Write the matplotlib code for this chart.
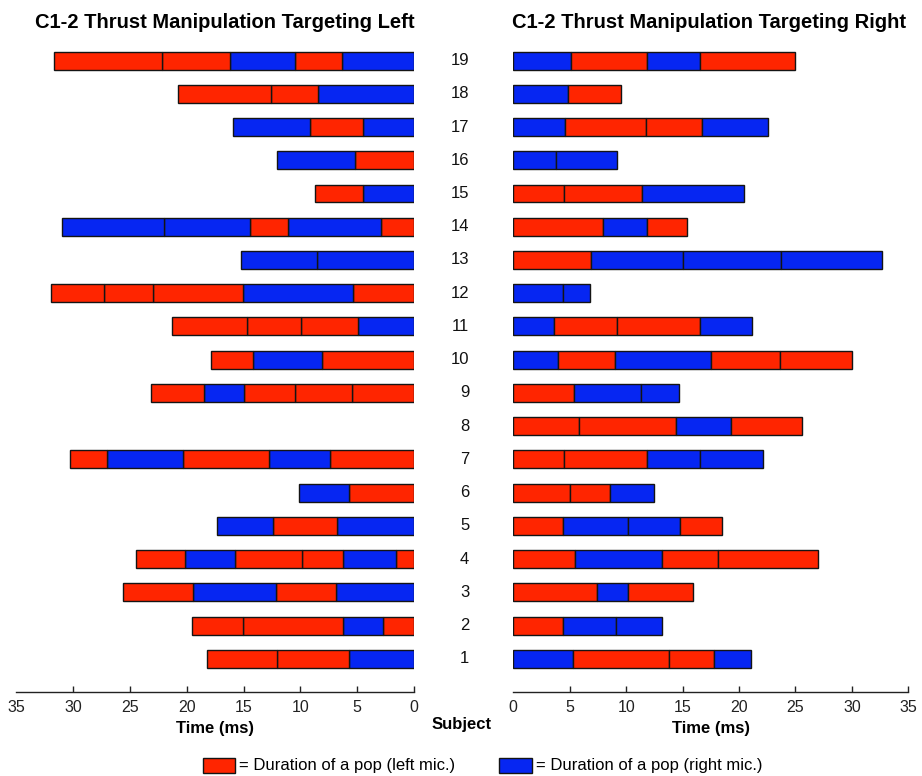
import matplotlib
matplotlib.use("Agg")
import matplotlib.pyplot as plt
from matplotlib.patches import Rectangle

plt.rcParams['font.family'] = ['Liberation Sans', 'DejaVu Sans']

subjects = list(range(1, 20))

# Cumulative segment end points (ms), going outward from 0; colour code R = left mic, B = right mic
left_ends = [
    [5.69, 12.09, 18.25],
    [2.7, 6.22, 15.08, 19.57],
    [6.87, 12.15, 19.48, 25.64],
    [1.58, 6.28, 9.89, 15.76, 20.16, 24.47],
    [6.8, 12.38, 17.31],
    [5.69, 10.1],
    [7.39, 12.76, 20.31, 27.05, 30.28],
    [],
    [5.49, 10.48, 14.94, 18.49, 23.15],
    [8.13, 14.2, 17.9],
    [4.96, 9.95, 14.73, 21.28],
    [5.34, 15.08, 22.95, 27.26, 31.95],
    [8.51, 15.23],
    [2.93, 11.12, 14.44, 22.0, 31.0],
    [4.46, 8.71],
    [5.19, 12.09],
    [4.46, 9.15, 15.96],
    [8.42, 12.59, 20.75],
    [6.36, 10.5, 16.2, 22.2, 31.66],
]
left_mics = [
    "BRR", "RBRR", "BRBR", "RBRRBR", "BRB", "RB", "RBRBR", "",
    "RRRBR", "RBR", "BRRR", "RBRRR", "BB", "RBRBB", "BR", "RB",
    "BRB", "BRR", "BRBRR",
]

right_ends = [
    [5.26, 13.79, 17.8, 21.03],
    [4.37, 9.1, 13.2],
    [7.44, 10.19, 15.94],
    [5.47, 13.14, 18.16, 27.02],
    [4.43, 10.19, 14.77, 18.51],
    [5.02, 8.57, 12.46],
    [4.52, 11.82, 16.54, 22.09],
    [5.85, 14.41, 19.28, 25.6],
    [5.4, 11.28, 14.68],
    [3.99, 9.01, 17.51, 23.62, 29.97],
    [3.6, 9.16, 16.54, 21.17],
    [4.37, 6.79],
    [6.88, 15.06, 23.71, 32.63],
    [7.92, 11.87, 15.36],
    [4.49, 11.37, 20.41],
    [3.78, 9.16],
    [4.58, 11.73, 16.69, 22.59],
    [4.82, 9.54],
    [5.11, 11.87, 16.54, 24.95],
]
right_mics = [
    "BRRB", "RBB", "RBR", "RBRR", "RBBR", "RRB", "RRBB", "RRBR",
    "RBB", "BRBRR", "BRRB", "BB", "RBBB", "RBR", "RRB", "BB",
    "BRRB", "BR", "BRBR",
]

x_ticks = [0, 5, 10, 15, 20, 25, 30, 35]
titles = ["C1-2 Thrust Manipulation Targeting Left", "C1-2 Thrust Manipulation Targeting Right"]
legend_labels = ["= Duration of a pop (left mic.)", "= Duration of a pop (right mic.)"]

RED = '#FF2500'
BLUE = '#0626F2'
colmap = {'R': RED, 'B': BLUE}
EDGE = '#141414'

W, H = 922, 776
fig = plt.figure(figsize=(W / 100, H / 100), dpi=100)

def fx(px):
    return px / W

def fy(py):
    return 1 - py / H

ax_bottom = fy(692)
ax_height = (692 - 27.3) / H
axL = fig.add_axes([fx(16.4), ax_bottom, fx(414) - fx(16.4), ax_height])
axR = fig.add_axes([fx(513.3), ax_bottom, fx(908.3) - fx(513.3), ax_height])

def draw(ax, ends, mics):
    for subj, e, m in zip(subjects, ends, mics):
        starts = [0] + e[:-1]
        widths = [b - a for a, b in zip(starts, e)]
        cols = [colmap[c] for c in m]
        ax.barh([subj] * len(e), widths, left=starts, height=0.54,
                color=cols, edgecolor=EDGE, linewidth=1.0)

draw(axL, left_ends, left_mics)
draw(axR, right_ends, right_mics)

axL.set_xlim(35, 0)
axR.set_xlim(0, 35)
for ax in (axL, axR):
    ax.set_ylim(0, 20)
    ax.set_yticks([])
    for s in ('top', 'left', 'right'):
        ax.spines[s].set_visible(False)
    ax.spines['bottom'].set_linewidth(1.0)
    ax.spines['bottom'].set_color('#222222')
    ax.set_xticks(x_ticks)
    ax.set_xticklabels([str(t) for t in x_ticks])
    ax.tick_params(axis='x', direction='in', length=4.5, width=1.0,
                   colors='#222222', labelsize=11.5, pad=6)
    ax.set_xlabel("Time (ms)", fontsize=12, fontweight='bold', labelpad=4)

axL.xaxis.get_major_ticks()[-1].tick1line.set_visible(False)
axR.xaxis.get_major_ticks()[0].tick1line.set_visible(False)

# Subject numbers
for subj in subjects:
    axR.text(-3.9, subj, str(subj), ha='right', va='center', fontsize=12,
             color='#111111')

fig.text(fx(462), fy(725), "Subject", ha='center', va='center',
         fontsize=12, fontweight='bold')

fig.text(fx(225), fy(22), titles[0], ha='center', va='center',
         fontsize=14.5, fontweight='bold')
fig.text(fx(709), fy(22), titles[1], ha='center', va='center',
         fontsize=14.5, fontweight='bold')

# Legend
for (x0, x1), col, lab in zip([(203.3, 235), (499.3, 531.7)], [RED, BLUE], legend_labels):
    fig.patches.append(Rectangle((fx(x0), fy(773)), fx(x1) - fx(x0), fy(758) - fy(773),
                                 transform=fig.transFigure, facecolor=col,
                                 edgecolor=EDGE, linewidth=1.0))
    fig.text(fx(x1 + 4), fy(765.5), lab, ha='left', va='center', fontsize=12)

fig.savefig("out.png", dpi=100)
